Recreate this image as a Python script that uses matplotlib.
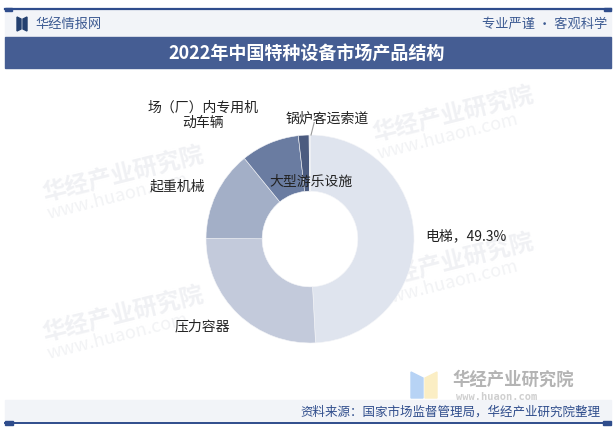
import matplotlib.pyplot as plt
from matplotlib.patches import Rectangle, Polygon

plt.rcParams['font.family'] = ['Noto Sans CJK SC', 'DejaVu Sans']

# data: 2022 special equipment structure (share, %)
categories = ['电梯', '压力容器', '起重机械', '场（厂）内专用机动车辆',
              '锅炉', '大型游乐设施', '客运索道']
shares = [49.3, 26.0, 14.1, 9.1, 1.66, 0.13, 0.01]
colors = ['#dfe4ee', '#c3cadb', '#a3afc7', '#6a7ca1',
          '#4b5b7f', '#8a94a8', '#b0b8c8']

W, H = 614, 429
NAVY = '#2f4d8c'

fig = plt.figure(figsize=(W / 100, H / 100), dpi=100)
fig.patch.set_facecolor('white')


def px(x, y, w, h):
    # pixel box (top-left origin) -> figure fraction box
    return [x / W, 1 - (y + h) / H, w / W, h / H]


bg = fig.add_axes([0, 0, 1, 1])
bg.set_xlim(0, W)
bg.set_ylim(H, 0)
bg.axis('off')

# header strip
bg.add_patch(Rectangle((5, 9), 606, 28, color='#f2f4f8', zorder=0))
bg.plot([5, 611], [9, 9], color=NAVY, lw=1.6, zorder=2)
bg.add_patch(Rectangle((5, 7.5), 7, 3.5, color=NAVY, zorder=3))
bg.add_patch(Rectangle((604, 7.5), 7, 3.5, color=NAVY, zorder=3))
bg.add_patch(Polygon([[17, 17], [21, 19], [21, 29], [17, 31]], color='#23406f'))
bg.add_patch(Polygon([[27, 17], [23, 19], [23, 29], [27, 31]], color='#23406f'))
bg.text(35, 24, '华经情报网', color='#3c5a92', fontsize=9.5, va='center')
bg.text(607, 24, '专业严谨 • 客观科学', color='#3c5a92', fontsize=9.5,
        va='center', ha='right')

# title bar
bg.add_patch(Rectangle((5, 37), 606, 31, color='#455d93', zorder=1))
bg.text(307, 53, '2022年中国特种设备市场产品结构', color='white', fontsize=13,
        fontweight='bold', ha='center', va='center', zorder=2)

# footer
bg.add_patch(Rectangle((5, 400), 606, 22, color='#f2f4f8', zorder=0))
bg.plot([5, 611], [422.5, 422.5], color=NAVY, lw=1.4, zorder=2)
bg.add_patch(Rectangle((5, 421), 8, 3.5, color=NAVY, zorder=3))
bg.add_patch(Rectangle((603, 421), 8, 3.5, color=NAVY, zorder=3))
bg.text(600, 412, '资料来源：国家市场监督管理局，华经产业研究院整理', color=NAVY,
        fontsize=9, ha='right', va='center', zorder=3)

# watermarks
for wx, wy in [(40, 175), (40, 315), (370, 115), (370, 262)]:
    bg.text(wx, wy, '华经产业研究院', color='#f0f1f4', fontsize=17,
            fontweight='bold', rotation=14, va='center', zorder=0.5)
    bg.text(wx + 5, wy + 22, 'www.huaon.com', color='#f2f3f5', fontsize=13,
            rotation=14, va='center', zorder=0.5)

# bottom-right logo
bg.add_patch(Polygon([[411, 372], [423, 378], [423, 398], [411, 398]],
                     color='#b7d3f5', zorder=1))
bg.add_patch(Polygon([[425, 378], [437, 372], [437, 398], [425, 398]],
                     color='#fbeec4', zorder=1))
bg.text(452, 380, '华经产业研究院', color='#b4b4b4', fontsize=12.5,
        fontweight='bold', va='center', zorder=1)
bg.text(456, 396.5, 'www.huaon.com', color='#cfcfcf', fontsize=7.5,
        fontweight='bold', va='center', zorder=1, family='DejaVu Sans Mono')

# donut
cx, cy, R = 310, 239, 102
half = 130
ax = fig.add_axes(px(cx - half, cy - half, 2 * half, 2 * half))
ax.set_facecolor('none')
lim = half / R
ax.set_xlim(-lim, lim)
ax.set_ylim(-lim, lim)
ax.axis('off')
ax.pie(shares, colors=colors, startangle=90, counterclock=False, radius=1,
       wedgeprops=dict(width=0.54, edgecolor='#f4f5f8', linewidth=0.4))

lab = dict(fontsize=10, color='#222222')
ax.text(-1.03, 1.19, '场（厂）内专用机\n动车辆', ha='center', va='center',
        linespacing=1.15, **lab)
ax.text(0.17, 1.16, '锅炉客运索道', ha='center', va='center', **lab)
ax.plot([0.01, 0.04], [1.0, 1.12], color='#999999', lw=0.8)
ax.text(0.01, 0.55, '大型游乐设施', ha='center', va='center', **lab)
ax.text(-1.27, 0.50, '起重机械', ha='center', va='center', **lab)
ax.text(1.11, 0.03, '电梯，49.3%', ha='left', va='center', **lab)
ax.text(-1.04, -0.84, '压力容器', ha='center', va='center', **lab)

fig.savefig('out.png', dpi=100)
